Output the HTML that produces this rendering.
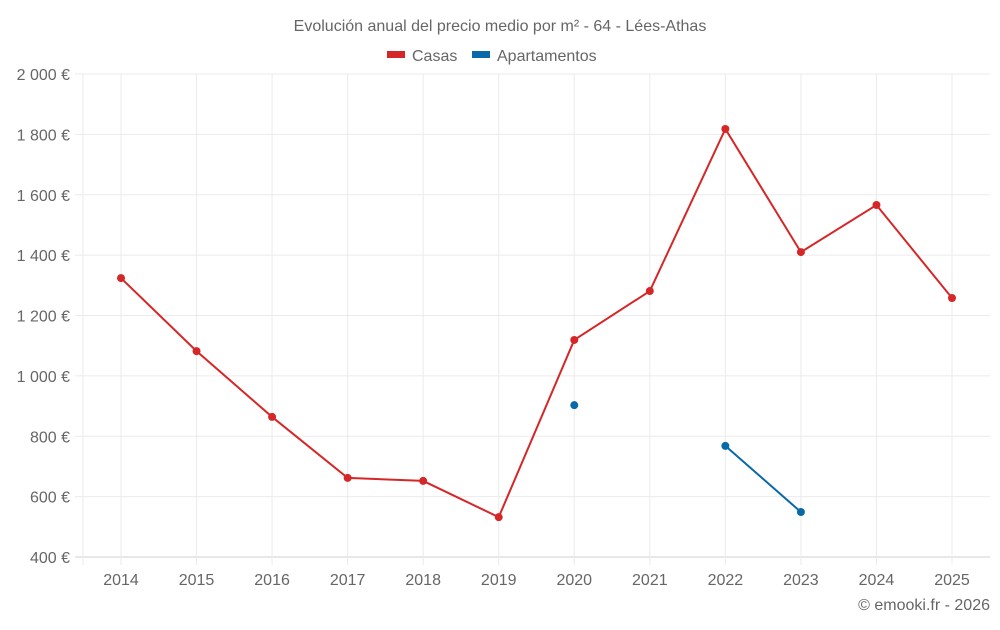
<!DOCTYPE html>
<html><head><meta charset="utf-8"><style>
body{margin:0;background:#fff;font-family:"Liberation Sans",sans-serif;}
svg text{font-family:"Liberation Sans",sans-serif;fill:#666;}
</style></head><body>
<svg id="chart" width="1000" height="625">
<text x="500" y="31" text-anchor="middle" font-size="16">Evolución anual del precio medio por m² - 64 - Lées-Athas</text>
<g>
<g><rect x="387" y="51" width="18" height="7" fill="#d62728"/><text x="412" y="61" font-size="16">Casas</text></g>
<g><rect x="472" y="51" width="18" height="7" fill="#0868a8"/><text x="497" y="61" font-size="16">Apartamentos</text></g>
</g>
<g id="grid"></g><g id="axes"></g><g id="series"></g>
<text x="990" y="610" text-anchor="end" font-size="16">© emooki.fr - 2026</text>
</svg>
<script>
const years=[2014,2015,2016,2017,2018,2019,2020,2021,2022,2023,2024,2025];
const casas=[1324,1082,864,662,652,532,1119,1281,1818,1410,1566,1258];
const apartamentos=[null,null,null,null,null,null,903,null,768,549,null,null];
const yTicks=[400,600,800,1000,1200,1400,1600,1800,2000];
const yLabels=["400 €","600 €","800 €","1 000 €","1 200 €","1 400 €","1 600 €","1 800 €","2 000 €"];
const L=83,R=990,T=74,B=557,ymin=400,ymax=2000;
const x=i=>121+i*(952-121)/(years.length-1);
const y=v=>B-(v-ymin)/(ymax-ymin)*(B-T);
const NS="http://www.w3.org/2000/svg";
function mk(t,a,p){const e=document.createElementNS(NS,t);for(const k in a)e.setAttribute(k,a[k]);p.appendChild(e);return e;}
const grid=document.getElementById('grid'),axes=document.getElementById('axes'),ser=document.getElementById('series');
yTicks.forEach((v,i)=>{
 const l=mk('line',{x1:75,x2:R,y1:y(v),y2:y(v),stroke:i==0?'#d0d0d0':'#ebebeb'},grid);
 
 
 const t=mk('text',{x:70,y:y(v)+6,'text-anchor':'end','font-size':16},axes);t.textContent=yLabels[i];
 
 
});
mk('line',{x1:L,x2:L,y1:T,y2:B+8,stroke:'#ebebeb'},grid);
years.forEach((yr,i)=>{
 const l=mk('line',{x1:x(i),x2:x(i),y1:T,y2:B+8,stroke:'#ebebeb'},grid);
 
 
 const t=mk('text',{x:x(i),y:585,'text-anchor':'middle','font-size':16},axes);t.textContent=yr;
 
 
});
function draw(vals,color,name){
 let segs=[],cur=[];
 vals.forEach((v,i)=>{if(v==null){if(cur.length)segs.push(cur);cur=[];}else cur.push([x(i),y(v)]);});
 if(cur.length)segs.push(cur);
 segs.forEach(s=>{if(s.length>1){const p=mk('polyline',{points:s.map(q=>q.join(',')).join(' '),fill:'none',stroke:color,'stroke-width':2},ser);
  
  }});
 vals.forEach((v,i)=>{if(v!=null){const c=mk('circle',{cx:x(i),cy:y(v),r:4,fill:color},ser);
  
  }});
}
draw(casas,'#d62728','casas');
draw(apartamentos,'#0868a8','apartamentos');
</script>
</body></html>
